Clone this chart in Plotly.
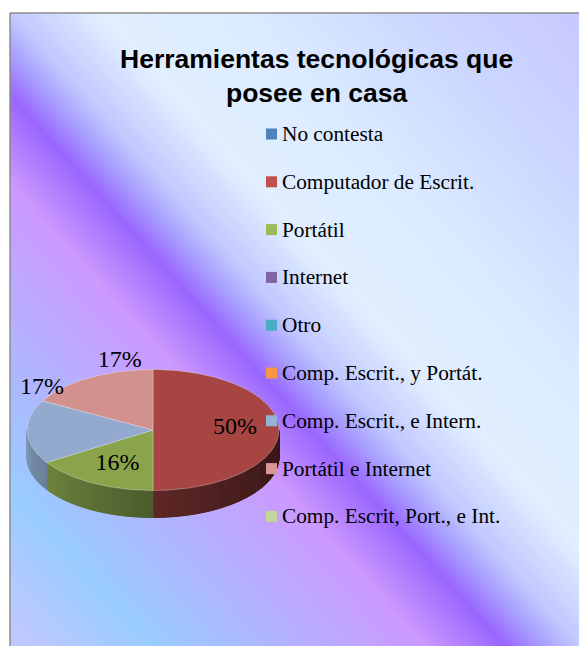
import numpy as np
import plotly.graph_objects as go

# ---- data -------------------------------------------------------------
categories = [
    "No contesta",
    "Computador de Escrit.",
    "Portátil",
    "Internet",
    "Otro",
    "Comp. Escrit., y Portát.",
    "Comp. Escrit., e Intern.",
    "Portátil e Internet",
    "Comp. Escrit, Port., e Int.",
]
values = [0, 50, 16, 0, 0, 0, 17, 17, 0]

# legend colours (Excel 2007 palette) and the lit top faces of the pie
colors = ["#4F81BD", "#C0504D", "#9BBB59", "#8064A2", "#4BACC6",
          "#F79646", "#95B3D7", "#D99694", "#C3D69B"]
face_colors = ["#4F81BD", "#A64541", "#8AA44B", "#8064A2", "#4BACC6",
               "#F79646", "#94A9CE", "#D3918E", "#C3D69B"]

title = "Herramientas tecnológicas que<br>posee en casa"

# ---- layout constants (pixels) ---------------------------------------
W, H = 579, 646
FX, FY = 10, 13                     # chart frame top-left corner
CX, CY, RX, RY, DEPTH = 153, 430, 126, 60.5, 27

# background gradient stops along t = u - v (top-right +1, bottom-left -1)
BG_STOPS = [
    (-1.00, "#c4c8ff"),
    (-0.75, "#99ccff"),
    (-0.27, "#cc99ff"),
    (-0.13, "#9966ff"),
    (-0.06, "#a9a0ff"),
    (0.00, "#c0c8ff"),
    (0.15, "#e0eeff"),
    (0.40, "#dcebff"),
    (0.70, "#ccd8ff"),
    (1.00, "#c8c8ff"),
]

# label placement per slice: (radius factor, dx, dy)
LABEL_POS = {1: (0.65, 0, -2), 2: (0.65, 4, 0), 6: (1.0, 15, -44), 7: (1.0, 31, -17)}


def hex_rgb(h):
    h = h.lstrip("#")
    return np.array([int(h[i:i + 2], 16) for i in (0, 2, 4)], dtype=float)


def rgb_str(c):
    c = np.clip(c, 0, 255)
    return "rgb(%d,%d,%d)" % tuple(int(round(v)) for v in c)


def bg_color(t):
    for (t0, c0), (t1, c1) in zip(BG_STOPS[:-1], BG_STOPS[1:]):
        if t <= t1:
            f = (t - t0) / (t1 - t0)
            return rgb_str(hex_rgb(c0) * (1 - f) + hex_rgb(c1) * f)
    return BG_STOPS[-1][1]


def to_px(u, v):
    return FX + u * (W - FX), FY + v * (H - FY)


# ---- background bands ---------------------------------------------------
shapes = []
n_bands = 240
step = 2.0 / n_bands
for i in range(n_bands):
    t0 = -1 + i * step
    t1 = t0 + step * 1.25
    pts = [to_px(t0, 0), to_px(t1, 0), to_px(t1 + 1, 1), to_px(t0 + 1, 1)]
    path = "M " + " L ".join("%.2f,%.2f" % p for p in pts) + " Z"
    shapes.append(dict(type="path", path=path, xref="x", yref="y", layer="below",
                       fillcolor=bg_color(t0 + step / 2), line=dict(width=0)))
shapes += [
    dict(type="rect", x0=-5, x1=FX, y0=-5, y1=H + 5, xref="x", yref="y", layer="below",
         fillcolor="white", line=dict(width=0)),
    dict(type="rect", x0=-5, x1=W + 5, y0=-5, y1=FY, xref="x", yref="y", layer="below",
         fillcolor="white", line=dict(width=0)),
    dict(type="line", x0=FX, x1=W + 5, y0=FY, y1=FY, xref="x", yref="y",
         line=dict(color="#8c8c8c", width=1.5)),
    dict(type="line", x0=FX, x1=FX, y0=FY, y1=H + 5, xref="x", yref="y",
         line=dict(color="#8c8c8c", width=1.5)),
]


# ---- 3D pie ---------------------------------------------------------------
def arc(a, b, dy=0.0, r=1.0):
    th = np.radians(np.linspace(a, b, max(int(abs(b - a)), 2) + 1))
    return CX + r * RX * np.sin(th), CY - r * RY * np.cos(th) + dy


def side_shade(theta):
    x = (theta - 90) / 180.0
    return 0.3 + 0.55 * max(x, 0) ** 1.5


fig = go.Figure()
total = float(sum(values))
angles = {}
start = 0.0
for i, v in enumerate(values):
    if v == 0:
        continue
    end = start + 360.0 * v / total
    angles[i] = (start, end)
    start = end

# front side walls
for i, (a, b) in angles.items():
    lo, hi = max(a, 90), min(b, 270)
    if lo >= hi:
        continue
    edges = np.arange(lo, hi, 1.0).tolist() + [hi]
    for s0, s1 in zip(edges[:-1], edges[1:]):
        if s1 - s0 < 1e-6:
            continue
        xt, yt = arc(s0, s1)
        xb, yb = arc(s1, s0, dy=DEPTH)
        col = rgb_str(hex_rgb(colors[i]) * side_shade((s0 + s1) / 2))
        fig.add_trace(go.Scatter(
            x=np.concatenate([xt, xb, xt[:1]]), y=np.concatenate([yt, yb, yt[:1]]),
            mode="lines", fill="toself", fillcolor=col, line=dict(color=col, width=1),
            hoverinfo="skip", showlegend=False))

# top faces
for i, (a, b) in angles.items():
    xa, ya = arc(a, b)
    fig.add_trace(go.Scatter(
        x=np.concatenate([[CX], xa, [CX]]), y=np.concatenate([[CY], ya, [CY]]),
        mode="lines", fill="toself", fillcolor=face_colors[i],
        line=dict(color="rgba(255,255,255,0.35)", width=0.8),
        name=categories[i], hoverinfo="name", showlegend=False))

# percentage labels
lx, ly, lt = [], [], []
for i, (a, b) in angles.items():
    r, dx, dy = LABEL_POS[i]
    mid = np.radians((a + b) / 2)
    lx.append(CX + r * RX * np.sin(mid) + dx)
    ly.append(CY - r * RY * np.cos(mid) + dy)
    lt.append("%d%%" % round(100 * values[i] / total))
fig.add_trace(go.Scatter(x=lx, y=ly, text=lt, mode="text", hoverinfo="skip",
                         textfont=dict(family="Liberation Serif", size=24, color="black"),
                         showlegend=False))

# ---- legend (drawn by hand to match the row spacing) ------------------------
LEG_X, LEG_Y, LEG_DY = 271.5, 134, 47.8
rows = [LEG_Y + k * LEG_DY for k in range(len(categories))]
fig.add_trace(go.Scatter(x=[LEG_X] * len(categories), y=rows, mode="markers",
                         marker=dict(symbol="square", size=11, color=colors, line=dict(width=0)),
                         hovertext=categories, hoverinfo="text", showlegend=False))
annotations = [
    dict(x=LEG_X + 8.5, y=yy, text=name, showarrow=False, xanchor="left", yanchor="middle",
         xref="x", yref="y", font=dict(family="Liberation Serif", size=21.3, color="black"))
    for name, yy in zip(categories, rows)
]
annotations.append(dict(
    x=316, y=76, text="<b>%s</b>" % title, showarrow=False, xref="x", yref="y",
    xanchor="center", yanchor="middle",
    font=dict(family="Liberation Sans", size=26.5, color="black")))

fig.update_layout(
    width=W, height=H,
    margin=dict(l=0, r=0, t=0, b=0),
    paper_bgcolor="white", plot_bgcolor="white",
    xaxis=dict(range=[0, W], visible=False, fixedrange=True),
    yaxis=dict(range=[H, 0], visible=False, fixedrange=True),
    shapes=shapes, annotations=annotations,
    showlegend=False,
)

# drop the page's default 8px body margin so the chart sits at the window origin
fig.write_html("out.html",
               config={"displayModeBar": False},
               post_script="document.body.style.margin='0';"
                           "document.body.style.overflow='hidden';")
